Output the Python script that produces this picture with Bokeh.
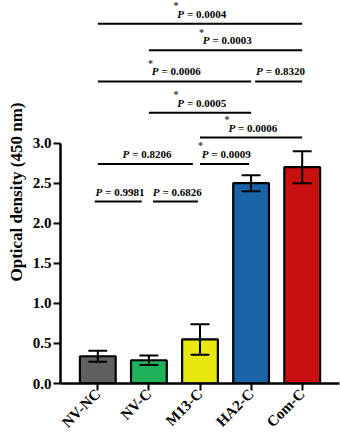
import math
from bokeh.plotting import figure
from bokeh.models import Range1d, FixedTicker, NumeralTickFormatter
from bokeh.core.properties import value
from bokeh.embed import file_html
from bokeh.resources import INLINE

# ---- data ----
categories = ["NV-NC", "NV-C", "M13-C", "HA2-C", "Com-C"]
means = [0.34, 0.29, 0.55, 2.50, 2.70]
errors = [0.07, 0.06, 0.19, 0.10, 0.20]
bar_colors = ["#606060", "#20b25a", "#e8e80e", "#1b63a9", "#c81010"]
y_ticks = [0.0, 0.5, 1.0, 1.5, 2.0, 2.5, 3.0]

# significance comparisons (line level, start, end in category units)
cmp_level = [4.49, 4.16, 3.77, 3.77, 3.38, 3.07, 2.74, 2.74, 2.27, 2.27]
cmp_start = [0, 1, 0, 3.08, 1, 2, 0, 2.0, -0.06, 1.08]
cmp_end = [4, 4, 3, 4, 3, 4, 1.86, 2.96, 0.86, 1.96]
cmp_p = ["0.0004", "0.0003", "0.0006", "0.8320", "0.0005",
         "0.0006", "0.8206", "0.0009", "0.9981", "0.6826"]
cmp_star = [True, True, True, False, True, True, False, True, False, False]

FONT = value("Liberation Serif")

p = figure(width=340, height=439, output_backend="svg", toolbar_location=None,
           x_range=Range1d(-0.73, 4.73), y_range=Range1d(0, 4.78),
           min_border_left=60, min_border_right=1, min_border_top=0,
           min_border_bottom=50)
p.outline_line_color = None
p.xgrid.visible = False
p.ygrid.visible = False

idx = list(range(len(categories)))
p.vbar(x=idx, top=means, width=0.7, bottom=0, fill_color=bar_colors,
       line_color="black", line_width=2.2)

lo = [m - e for m, e in zip(means, errors)]
hi = [m + e for m, e in zip(means, errors)]
cw = 0.185
p.segment(x0=idx, y0=lo, x1=idx, y1=hi, line_color="black", line_width=2)
p.segment(x0=[i - cw for i in idx], y0=hi, x1=[i + cw for i in idx], y1=hi,
          line_color="black", line_width=2)
p.segment(x0=[i - cw for i in idx], y0=lo, x1=[i + cw for i in idx], y1=lo,
          line_color="black", line_width=2)

# comparison lines
p.segment(x0=cmp_start, y0=cmp_level, x1=cmp_end, y1=cmp_level,
          line_color="black", line_width=2)
mid = [(a + b) / 2 for a, b in zip(cmp_start, cmp_end)]
rest = ["= " + s for s in cmp_p]
p.text(x=mid, y=cmp_level, text=["P"] * len(mid), text_font=FONT,
       text_font_style="bold italic", text_font_size="11px",
       text_align="right", text_baseline="middle", x_offset=-16, y_offset=-10,
       text_color="black")
p.text(x=mid, y=cmp_level, text=rest, text_font=FONT,
       text_font_style="bold", text_font_size="11px",
       text_align="left", text_baseline="middle", x_offset=-13, y_offset=-10,
       text_color="black")
sx = [m for m, s in zip(mid, cmp_star) if s]
sy = [l for l, s in zip(cmp_level, cmp_star) if s]
p.text(x=sx, y=sy, text=["*"] * len(sx), text_font=FONT,
       text_font_style="bold", text_font_size="10px", text_color="#333333",
       text_align="center", text_baseline="middle", x_offset=-24, y_offset=-18)

# axes
xa = p.xaxis[0]
xa.ticker = FixedTicker(ticks=idx)
xa.major_label_overrides = {i: c for i, c in zip(idx, categories)}
xa.major_label_orientation = math.pi / 4
xa.minor_tick_line_color = None
xa.major_tick_in = 0
xa.major_tick_out = 7
xa.major_tick_line_width = 2
xa.axis_line_width = 2.5
xa.axis_line_color = "black"
xa.major_tick_line_color = "black"
xa.major_label_text_color = "black"
xa.major_label_text_font = "Liberation Serif"
xa.major_label_text_font_style = "bold"
xa.major_label_text_font_size = "15px"
xa.major_label_standoff = 1

ya = p.yaxis[0]
ya.bounds = (0, 3)
ya.ticker = FixedTicker(ticks=y_ticks)
ya.formatter = NumeralTickFormatter(format="0.0")
ya.minor_tick_line_color = None
ya.major_tick_in = 0
ya.major_tick_out = 7
ya.major_tick_line_width = 2
ya.axis_line_width = 2.5
ya.axis_line_color = "black"
ya.major_tick_line_color = "black"
ya.major_label_text_color = "black"
ya.major_label_text_font = "Liberation Serif"
ya.major_label_text_font_style = "bold"
ya.major_label_text_font_size = "15px"
ya.major_label_standoff = 2
ya.axis_label = "Optical density (450 nm)"
ya.axis_label_text_color = "black"
ya.axis_label_text_font = "Liberation Serif"
ya.axis_label_text_font_style = "bold"
ya.axis_label_text_font_size = "17px"
ya.axis_label_standoff = 4

open("out.html", "w").write(file_html(p, INLINE))
